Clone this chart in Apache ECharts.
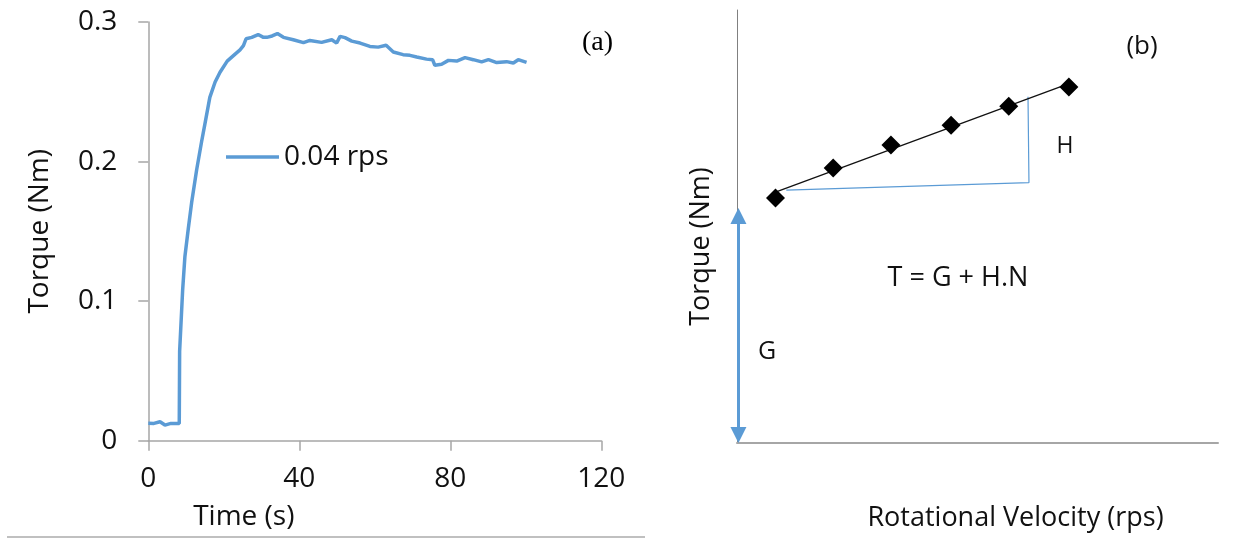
<!DOCTYPE html>
<html>
<head>
<meta charset="utf-8">
<script src="https://cdn.jsdelivr.net/npm/echarts@6/dist/echarts.min.js"></script>
<style>html,body{margin:0;padding:0;background:#fff}#c{width:1241px;height:550px}</style>
</head>
<body>
<div id="c"></div>
<script>
// ---- Panel (a): torque vs time at 0.04 rps ----
const timeS = [0, 1.5, 3.1, 4.4, 6.0, 8.2, 8.3, 9.1, 9.7, 10.6, 11.5, 12.8, 14.1, 15.0, 16.3, 17.7, 19.0, 20.9, 23.0, 24.3, 25.2, 25.9, 27.4, 29.1, 29.6, 30.5, 31.4, 32.8, 34.2, 35.8, 38.4, 41.1, 42.8, 45.9, 48.6, 49.9, 50.8, 52.1, 53.9, 56.1, 58.7, 60.9, 63.0, 64.9, 67.5, 69.3, 71.1, 73.7, 75.3, 75.9, 77.7, 79.5, 81.7, 83.9, 86.1, 88.3, 90.1, 92.3, 94.9, 96.7, 98.0, 100.2];
const torqueA = [0.0125, 0.0124, 0.0136, 0.0112, 0.0124, 0.0124, 0.064, 0.108, 0.132, 0.152, 0.171, 0.194, 0.214, 0.227, 0.246, 0.257, 0.264, 0.272, 0.277, 0.280, 0.283, 0.288, 0.289, 0.291, 0.291, 0.289, 0.289, 0.290, 0.2917, 0.289, 0.2873, 0.2852, 0.2868, 0.2854, 0.2873, 0.2849, 0.2897, 0.2888, 0.2863, 0.2849, 0.2825, 0.282, 0.2833, 0.2785, 0.2766, 0.2761, 0.2749, 0.2734, 0.273, 0.269, 0.2697, 0.2725, 0.272, 0.2745, 0.273, 0.2714, 0.273, 0.2709, 0.2716, 0.2706, 0.273, 0.2711];
const seriesNameA = '0.04 rps';
const xTicksA = [0, 40, 80, 120];
const yTicksA = [0, 0.1, 0.2, 0.3];

// ---- Panel (b): schematic torque vs rotational velocity ----
const velocityB = [0.08, 0.2, 0.32, 0.445, 0.565, 0.69];
const torqueB = [0.566, 0.635, 0.688, 0.734, 0.778, 0.822];
const slopeGuideX = [0.1025, 0.607, 0.605];
const slopeGuideY = [0.584, 0.6015, 0.7995];
const interceptArrowX = 0.003;
const interceptArrowY = [0.0185, 0.524];

const F = '"Open Sans", sans-serif';
const blue = '#5b9bd5';

// least-squares trend line through panel (b) points
const n = velocityB.length;
const mx = velocityB.reduce((a, b) => a + b, 0) / n;
const my = torqueB.reduce((a, b) => a + b, 0) / n;
let sxy = 0, sxx = 0;
for (let i = 0; i < n; i++) { sxy += (velocityB[i] - mx) * (torqueB[i] - my); sxx += (velocityB[i] - mx) ** 2; }
const slope = sxy / sxx, icpt = my - slope * mx;
const trend = [[velocityB[0], icpt + slope * velocityB[0]], [velocityB[n - 1], icpt + slope * velocityB[n - 1]]];

const chart = echarts.init(document.getElementById('c'), null, { renderer: 'canvas' });
chart.setOption({
  animation: false,
  backgroundColor: '#fff',
  legend: {
    data: [{ name: seriesNameA, icon: 'rect', itemStyle: { color: blue } }],
    left: 226, top: 143, padding: 0,
    itemWidth: 53, itemHeight: 3.5,
    textStyle: { fontFamily: F, fontSize: 28, color: '#111' }
  },
  grid: [
    { left: 148.3, width: 453, top: 22, bottom: 109.3 },
    { left: 737, right: 23, top: 10, bottom: 107 }
  ],
  xAxis: [
    {
      gridIndex: 0, type: 'value', min: xTicksA[0], max: xTicksA[xTicksA.length - 1], interval: 40,
      name: 'Time (s)', nameLocation: 'middle', nameGap: 62,
      nameTextStyle: { fontFamily: F, fontSize: 28, color: '#111', padding: [0, 262, 0, 0] },
      axisLine: { onZero: false, lineStyle: { color: '#a6a6a6', width: 1.5 } },
      axisTick: { show: true, inside: false, length: 10, lineStyle: { color: '#a6a6a6', width: 1.5 } },
      axisLabel: { fontFamily: F, fontSize: 28, color: '#111', margin: 24 },
      splitLine: { show: false }
    },
    {
      gridIndex: 1, type: 'value', min: 0, max: 1,
      name: 'Rotational Velocity (rps)', nameLocation: 'middle', nameGap: 62,
      nameTextStyle: { fontFamily: F, fontSize: 27, color: '#111', padding: [0, 0, 0, 76] },
      axisLine: { onZero: false, lineStyle: { color: '#a6a6a6', width: 2 } },
      axisTick: { show: false }, axisLabel: { show: false }, splitLine: { show: false }
    }
  ],
  yAxis: [
    {
      gridIndex: 0, type: 'value', min: yTicksA[0], max: yTicksA[yTicksA.length - 1], interval: 0.1,
      name: 'Torque (Nm)', nameLocation: 'middle', nameGap: 94,
      nameTextStyle: { fontFamily: F, fontSize: 28, color: '#111' },
      axisLine: { show: true, onZero: false, lineStyle: { color: '#a6a6a6', width: 1.5 } },
      axisTick: { show: true, inside: false, length: 10, lineStyle: { color: '#a6a6a6', width: 1.5 } },
      axisLabel: { fontFamily: F, fontSize: 28, color: '#111', margin: 31,
        formatter: v => (Math.round(v * 10) / 10).toString() },
      splitLine: { show: false }
    },
    {
      gridIndex: 1, type: 'value', min: 0, max: 1,
      name: 'Torque (Nm)', nameLocation: 'middle', nameGap: 22,
      nameTextStyle: { fontFamily: F, fontSize: 27, color: '#111', padding: [0, 40, 0, 0] },
      axisLine: { show: true, onZero: false, lineStyle: { color: '#808080', width: 1 } },
      axisTick: { show: false }, axisLabel: { show: false }, splitLine: { show: false }
    }
  ],
  series: [
    {
      name: seriesNameA, type: 'line', xAxisIndex: 0, yAxisIndex: 0,
      data: timeS.map((t, i) => [t, torqueA[i]]),
      showSymbol: false, symbol: 'none',
      lineStyle: { color: blue, width: 3.5 }, itemStyle: { color: blue }
    },
    {
      name: 'trend', type: 'line', xAxisIndex: 1, yAxisIndex: 1,
      data: trend, showSymbol: false, symbol: 'none',
      lineStyle: { color: '#111', width: 1.3 }, z: 3
    },
    {
      name: 'slope', type: 'line', xAxisIndex: 1, yAxisIndex: 1,
      data: slopeGuideX.map((x, i) => [x, slopeGuideY[i]]), showSymbol: false, symbol: 'none',
      lineStyle: { color: blue, width: 1.2 }, z: 2
    },
    {
      name: 'points', type: 'scatter', xAxisIndex: 1, yAxisIndex: 1,
      data: velocityB.map((x, i) => [x, torqueB[i]]),
      symbol: 'diamond', symbolSize: [19, 19],
      itemStyle: { color: '#000', opacity: 1 }, z: 4,
      markLine: {
        silent: true,
        symbol: ['triangle', 'triangle'], symbolSize: [16, 16],
        label: { show: false },
        lineStyle: { color: blue, width: 3, type: 'solid', opacity: 1 },
        data: [[{ coord: [interceptArrowX, interceptArrowY[0]] }, { coord: [interceptArrowX, interceptArrowY[1]] }]]
      }
    }
  ],
  graphic: [
    { type: 'text', left: 582, top: 29, style: { text: '(a)', font: '28px "Liberation Serif", serif', fill: '#000' } },
    { type: 'text', x: 1142, y: 47, style: { text: '(b)', font: '26px ' + F, fill: '#111', align: 'center', verticalAlign: 'middle' } },
    { type: 'text', x: 1065, y: 146, style: { text: 'H', font: '23px ' + F, fill: '#111', align: 'center', verticalAlign: 'middle' } },
    { type: 'text', x: 767, y: 352, style: { text: 'G', font: '25px ' + F, fill: '#111', align: 'center', verticalAlign: 'middle' } },
    { type: 'text', x: 958, y: 278, style: { text: 'T = G + H.N', font: '27px ' + F, fill: '#111', align: 'center', verticalAlign: 'middle' } },
    { type: 'line', shape: { x1: 7, y1: 537, x2: 645, y2: 537 }, style: { stroke: '#c0c0c0', lineWidth: 2 } }
  ]
});
</script>
</body>
</html>
